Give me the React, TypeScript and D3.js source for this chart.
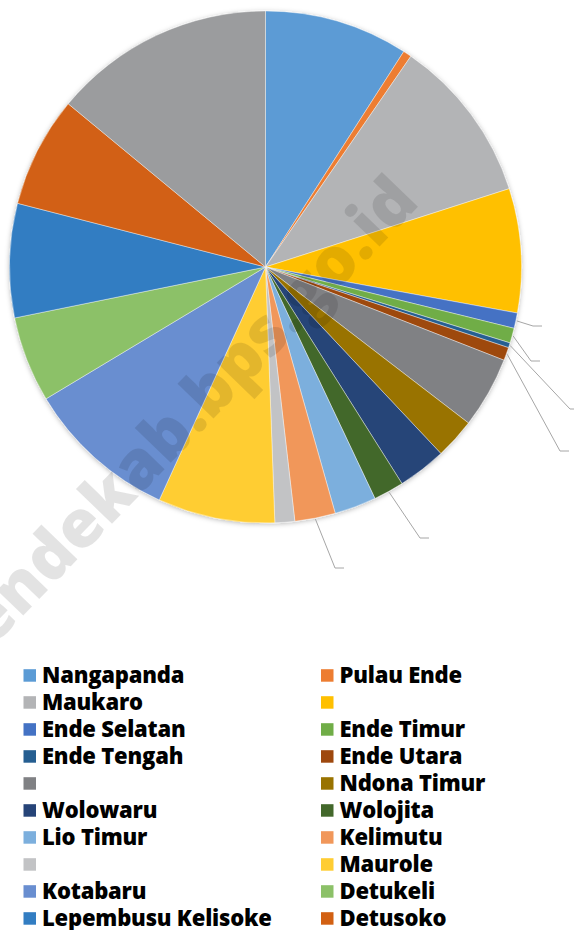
import * as d3 from 'd3'
import React, { useRef, useEffect } from 'react'

// kecamatan in slice order (clockwise from 12 o'clock); blanks have no name in the legend
const categories = [
  'Nangapanda', 'Pulau Ende', 'Maukaro', '', 'Ende Selatan', 'Ende Timur', 'Ende Tengah',
  'Ende Utara', '', 'Ndona Timur', 'Wolowaru', 'Wolojita', 'Lio Timur', 'Kelimutu', '',
  'Maurole', 'Kotabaru', 'Detukeli', 'Lepembusu Kelisoke', 'Detusoko', ''
]
// share of the total, in percent
const values = [
  9.08, 0.53, 10.44, 7.83, 0.97, 0.94, 0.31, 0.83, 4.5, 2.56, 3.06,
  1.92, 2.64, 2.56, 1.25, 7.39, 9.58, 5.42, 7.19, 7.0, 14.0
]
const colors = [
  '#5B9BD5', '#ED7D31', '#B3B4B6', '#FFC000', '#4472C4', '#70AD47', '#255E91',
  '#9E480E', '#808184', '#997300', '#264478', '#43682B', '#7CAFDD', '#F1975A', '#C2C3C5',
  '#FFCD33', '#698ED0', '#8CC168', '#327DC2', '#D26012', '#9B9C9E'
]
// slices whose (empty) data labels sit outside with a leader line
const leaderSlices = ['Ende Selatan', 'Ende Timur', 'Ende Tengah', 'Ende Utara', 'Wolojita', 'Kelimutu']
const labelSpots = [[533, 326], [531, 361], [570, 409], [560, 451], [420, 538], [335, 568]]

export default function App() {
  const ref = useRef<SVGSVGElement>(null)

  const width = 574
  const height = 930
  const cx = 265.5
  const cy = 267
  const radius = 256

  useEffect(() => {
    const svg = d3.select(ref.current)
    svg.selectAll('*').remove()

    const defs = svg.append('defs')
    defs.append('filter')
      .attr('id', 'pieShadow')
      .attr('x', '-10%').attr('y', '-10%').attr('width', '120%').attr('height', '120%')
      .append('feDropShadow')
      .attr('dx', 0).attr('dy', 1)
      .attr('stdDeviation', 2.5)
      .attr('flood-color', '#000')
      .attr('flood-opacity', 0.28)

    const data = categories.map((c, i) => ({ name: c, value: values[i], color: colors[i], idx: i }))

    const pie = d3.pie<any>().sort(null).value(d => d.value)
    const arcs = pie(data)
    const arc = d3.arc<any>().innerRadius(0).outerRadius(radius)

    const g = svg.append('g').attr('transform', `translate(${cx},${cy})`)

    g.append('g')
      .attr('filter', 'url(#pieShadow)')
      .selectAll('path')
      .data(arcs)
      .enter()
      .append('path')
      .attr('d', arc)
      .attr('fill', d => d.data.color)
      .attr('stroke', '#fff')
      .attr('stroke-width', 0.4)

    // leader lines
    leaderSlices.forEach((name, k) => {
      const a = arcs.find(d => d.data.name === name)!
      const mid = (a.startAngle + a.endAngle) / 2
      const sx = cx + Math.sin(mid) * (radius + 1)
      const sy = cy - Math.cos(mid) * (radius + 1)
      const [ex, ey] = labelSpots[k]
      svg.append('path')
        .attr('d', d3.line()([[sx, sy], [ex, ey], [ex + 9, ey]]))
        .attr('fill', 'none')
        .attr('stroke', '#A6A6A6')
        .attr('stroke-width', 1)
    })

    // watermark
    svg.append('text')
      .attr('transform', 'translate(-8,648) rotate(-46)')
      .attr('font-family', 'Open Sans, Arial, sans-serif')
      .attr('font-weight', 800)
      .attr('font-size', 66)
      .attr('fill', '#000')
      .attr('fill-opacity', 0.11)
      .text('endekab.bps.go.id')

    // legend, two columns, row-major
    const colX = d3.scaleOrdinal<number, number>().domain([0, 1]).range([23.5, 321])
    const rowY = d3.scaleLinear().domain([0, 1]).range([675.5, 702.5])

    const legend = svg.append('g')
    data.forEach((d, i) => {
      const x = colX(i % 2)
      const y = rowY(Math.floor(i / 2))
      legend.append('rect')
        .attr('x', x).attr('y', y - 6.3)
        .attr('width', 12.5).attr('height', 12.5)
        .attr('fill', d.color)
      legend.append('text')
        .attr('x', x + 18.5).attr('y', y + 7.5)
        .attr('font-family', 'Open Sans, Arial, sans-serif')
        .attr('font-weight', 800)
        .attr('font-size', 22)
        .attr('letter-spacing', -0.2)
        .attr('fill', '#000')
        .text(d.name)
    })
  }, [])

  return <svg ref={ref} width={width} height={height}
    style={{ position: 'absolute', left: 0, top: 0, background: '#fff' }} />
}
